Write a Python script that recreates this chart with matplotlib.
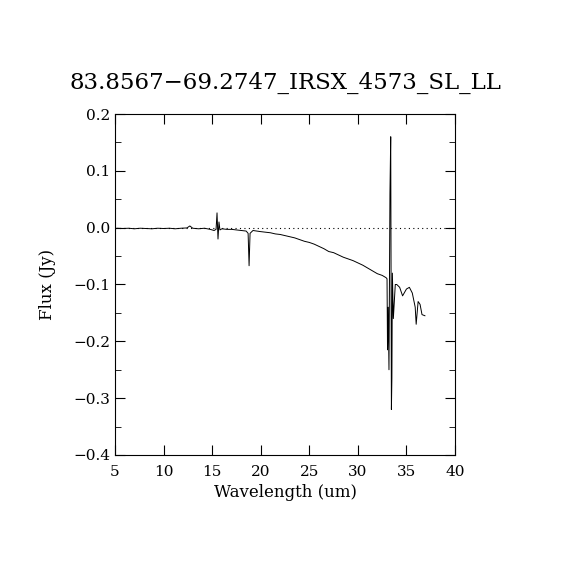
import numpy as np
from matplotlib import pyplot as plt
from matplotlib.ticker import MultipleLocator

# wavelength (um) and flux (Jy)
wave = [5.2, 5.8, 6.4, 7.0, 7.6, 8.2, 8.8, 9.4, 10.0, 10.6, 11.2, 11.8, 12.4, 12.7, 13.0,
        13.6, 14.2, 14.8, 15.2, 15.4, 15.5, 15.6, 15.7, 15.8, 16.0, 16.5, 17.0, 17.5, 18.0,
        18.5, 18.7, 18.8, 18.9, 19.2, 19.6, 20.0, 20.5, 21.0, 21.5, 22.0, 22.5, 23.0, 23.5,
        24.0, 24.5, 25.0, 25.5, 26.0, 26.5, 27.0, 27.5, 28.0, 28.5, 29.0, 29.5, 30.0, 30.5,
        31.0, 31.5, 32.0, 32.5, 32.9, 33.0, 33.05, 33.12, 33.2, 33.3, 33.38, 33.45, 33.5,
        33.55, 33.65, 33.75, 33.85, 34.0, 34.3, 34.6, 35.0, 35.3, 35.6, 35.9, 36.0, 36.2,
        36.4, 36.6, 36.9]
flux = [-0.001, -0.0015, -0.001, -0.002, -0.001, -0.0015, -0.002, -0.001, -0.0015, -0.001,
        -0.002, -0.001, -0.0005, 0.003, -0.001, -0.002, -0.001, -0.003, -0.005, -0.003,
        0.026, -0.02, 0.01, -0.004, -0.002, -0.003, -0.003, -0.004, -0.005, -0.006, -0.01,
        -0.067, -0.01, -0.005, -0.006, -0.007, -0.008, -0.009, -0.011, -0.012, -0.014,
        -0.016, -0.018, -0.021, -0.024, -0.026, -0.029, -0.033, -0.037, -0.042, -0.044,
        -0.048, -0.052, -0.055, -0.058, -0.062, -0.066, -0.071, -0.076, -0.081, -0.084,
        -0.088, -0.09, -0.215, -0.14, -0.25, 0.06, 0.16, -0.32, -0.265, -0.08, -0.16,
        -0.13, -0.1, -0.1, -0.105, -0.12, -0.108, -0.105, -0.115, -0.14, -0.17, -0.13,
        -0.135, -0.153, -0.155]

plt.rcParams['font.family'] = 'DejaVu Serif'
fig = plt.figure(figsize=(5.7, 5.7), dpi=100)
axe = fig.add_axes([0.2018, 0.2018, 0.5965, 0.5982])
axe.plot(wave, flux, color='black', linewidth=0.7)
axe.axhline(0, color='black', linestyle=(0, (1, 3)), linewidth=0.8)
axe.set_xlim(5, 40)
axe.set_ylim(-0.4, 0.2)
axe.xaxis.set_major_locator(MultipleLocator(5))
axe.yaxis.set_major_locator(MultipleLocator(0.1))
axe.yaxis.set_minor_locator(MultipleLocator(0.05))
axe.tick_params(which='both', direction='in', top=True, right=True, labelsize=11)
axe.tick_params(which='major', length=7)
axe.tick_params(which='minor', length=4)
axe.tick_params(axis='x', pad=7)
axe.set_yticks([-0.4, -0.3, -0.2, -0.1, 0.0, 0.1, 0.2])
axe.set_yticklabels(['\u22120.4', '\u22120.3', '\u22120.2', '\u22120.1', '0.0', '0.1', '0.2'])
axe.set_xlabel('Wavelength (um)', fontsize=12, labelpad=4)
axe.set_ylabel('Flux (Jy)', fontsize=12, labelpad=12)
axe.set_title('83.8567\u221269.2747_IRSX_4573_SL_LL', fontsize=16.5, pad=18)
plt.savefig('out.png')
